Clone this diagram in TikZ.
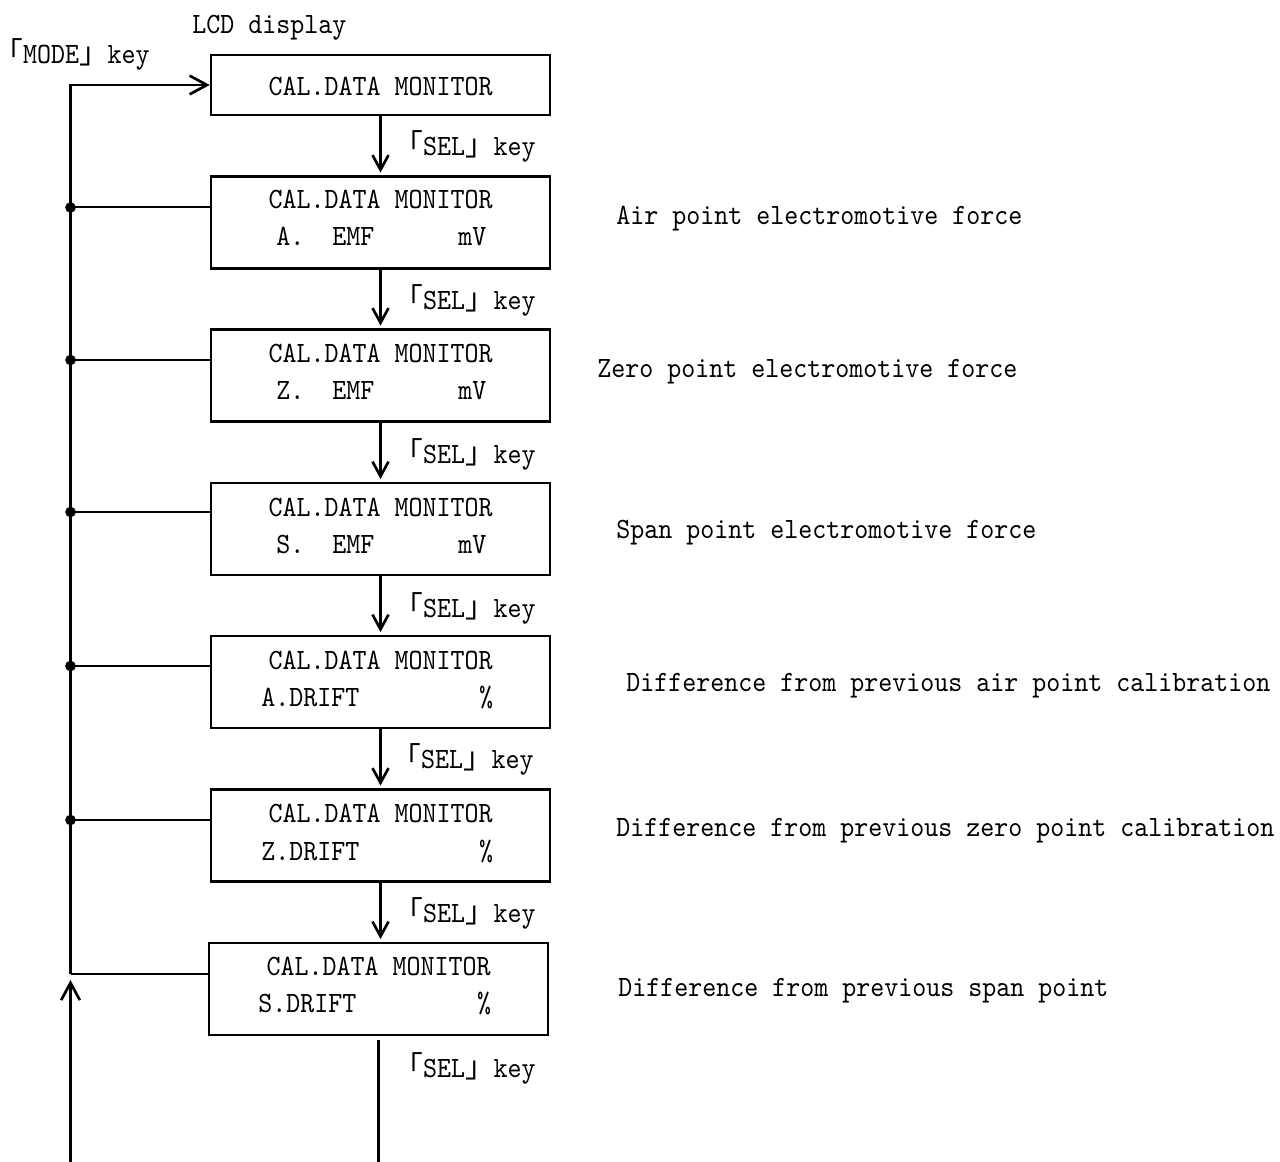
\documentclass[tikz,border=0pt]{standalone}
\usepackage{fontspec}
\setmonofont{lmmono10-regular.otf}[FakeStretch=0.905]
\newfontfamily\cjkfont{Noto Sans CJK JP}
\usetikzlibrary{arrows.meta}
\newcommand\kopen{{\cjkfont ｢}}
\newcommand\kclose{{\cjkfont ｣}}
\begin{document}
\begin{tikzpicture}[x=0.75pt,y=-0.75pt,
  txt/.style={anchor=base west,inner sep=0pt,font=\ttfamily\fontsize{22.1pt}{26pt}\selectfont},
  ctxt/.style={txt,anchor=base},
  box/.style={draw,line width=1.9pt,minimum width=254.25pt,minimum height=69pt,inner sep=0pt},
  conn/.style={line width=2pt},
  branch/.style={line width=1.5pt},
  darr/.style={conn,-{Straight Barb[length=11pt,width=12pt]},shorten >=2pt},
  uarr/.style={conn,-{Straight Barb[length=13pt,width=14pt]}},
  dot/.style={circle,fill,inner sep=0pt,minimum size=8pt}]
\useasboundingbox (0,0) rectangle (1280,1162);

% boxes
\node[box,minimum height=45pt] (b1) at (380.5,85) {};
\node[box] (b2) at (380.5,222.5) {};
\node[box] (b3) at (380.5,375.5) {};
\node[box] (b4) at (380.5,529) {};
\node[box] (b5) at (380.5,682) {};
\node[box] (b6) at (380.5,835.5) {};
\node[box] (b7) at (378.5,989) {};

% header labels
\node[txt] (lcd) at (192,34) {LCD display};
\node[txt] (mode) at (8,64) {\kopen MODE\kclose{} key};

% box texts
\node[ctxt] (t1) at (380.5,96) {CAL.DATA MONITOR};

\node[ctxt] (t2a) at (380.5,209) {CAL.DATA MONITOR};
\node[txt] (t2b) at (276,246) {A.};
\node[txt] (t2c) at (332,246) {EMF};
\node[txt] (t2d) at (458,246) {mV};

\node[ctxt] (t3a) at (380.5,362) {CAL.DATA MONITOR};
\node[txt] (t3b) at (276,399) {Z.};
\node[txt] (t3c) at (332,399) {EMF};
\node[txt] (t3d) at (458,399) {mV};

\node[ctxt] (t4a) at (380.5,516) {CAL.DATA MONITOR};
\node[txt] (t4b) at (276,553) {S.};
\node[txt] (t4c) at (332,553) {EMF};
\node[txt] (t4d) at (458,553) {mV};

\node[ctxt] (t5a) at (380.5,669) {CAL.DATA MONITOR};
\node[txt] (t5b) at (261,706) {A.DRIFT};
\node[ctxt] (t5c) at (486,706) {\%};

\node[ctxt] (t6a) at (380.5,822) {CAL.DATA MONITOR};
\node[txt] (t6b) at (261,860) {Z.DRIFT};
\node[ctxt] (t6c) at (486,860) {\%};

\node[ctxt] (t7a) at (378.5,975) {CAL.DATA MONITOR};
\node[txt] (t7b) at (258,1012) {S.DRIFT};
\node[ctxt] (t7c) at (484,1012) {\%};

% SEL labels
\node[txt] (s1) at (408,156) {\kopen SEL\kclose{} key};
\node[txt] (s2) at (408,310) {\kopen SEL\kclose{} key};
\node[txt] (s3) at (408,463) {\kopen SEL\kclose{} key};
\node[txt] (s4) at (408,617) {\kopen SEL\kclose{} key};
\node[txt] (s5) at (406,768) {\kopen SEL\kclose{} key};
\node[txt] (s6) at (408,922) {\kopen SEL\kclose{} key};
\node[txt] (s7) at (408,1077) {\kopen SEL\kclose{} key};

% side descriptions
\node[txt] (r2) at (616,225) {Air point electromotive force};
\node[txt] (r3) at (597,377) {Zero point electromotive force};
\node[txt] (r4) at (616,538) {Span point electromotive force};
\node[txt] (r5) at (626,691) {Difference from previous air point calibration};
\node[txt] (r6) at (616,836) {Difference from previous zero point calibration};
\node[txt] (r7) at (618,996) {Difference from previous span point};

% down arrows
\draw[darr] (b1.south) -- (b2.north);
\draw[darr] (b2.south) -- (b3.north);
\draw[darr] (b3.south) -- (b4.north);
\draw[darr] (b4.south) -- (b5.north);
\draw[darr] (b5.south) -- (b6.north);
\draw[darr] (b6.south) -- (b6.south |- b7.north);
\coordinate (e2) at (378.5,1162);
\draw[conn,shorten <=3pt] (b7.south) -- (e2);

% left return loop
\coordinate (c7) at (70.5,974);
\draw[conn] (c7 -| b7.west) -- (c7);
\draw[conn,-{Straight Barb[length=13pt,width=14pt]}] (c7) -- (c7 |- b1.west) -- (b1.west);
\coordinate (bot) at (70.5,1162);
\coordinate (up) at (70.5,980);
\draw[uarr] (bot) -- (up);

% junctions
\node[dot] (d2) at (70.5,207.5) {};
\node[dot] (d3) at (70.5,360) {};
\node[dot] (d4) at (70.5,512) {};
\node[dot] (d5) at (70.5,666) {};
\node[dot] (d6) at (70.5,820) {};
\draw[branch] (d2.center) -- (d2.center -| b2.west);
\draw[branch] (d3.center) -- (d3.center -| b3.west);
\draw[branch] (d4.center) -- (d4.center -| b4.west);
\draw[branch] (d5.center) -- (d5.center -| b5.west);
\draw[branch] (d6.center) -- (d6.center -| b6.west);
\end{tikzpicture}
\end{document}
